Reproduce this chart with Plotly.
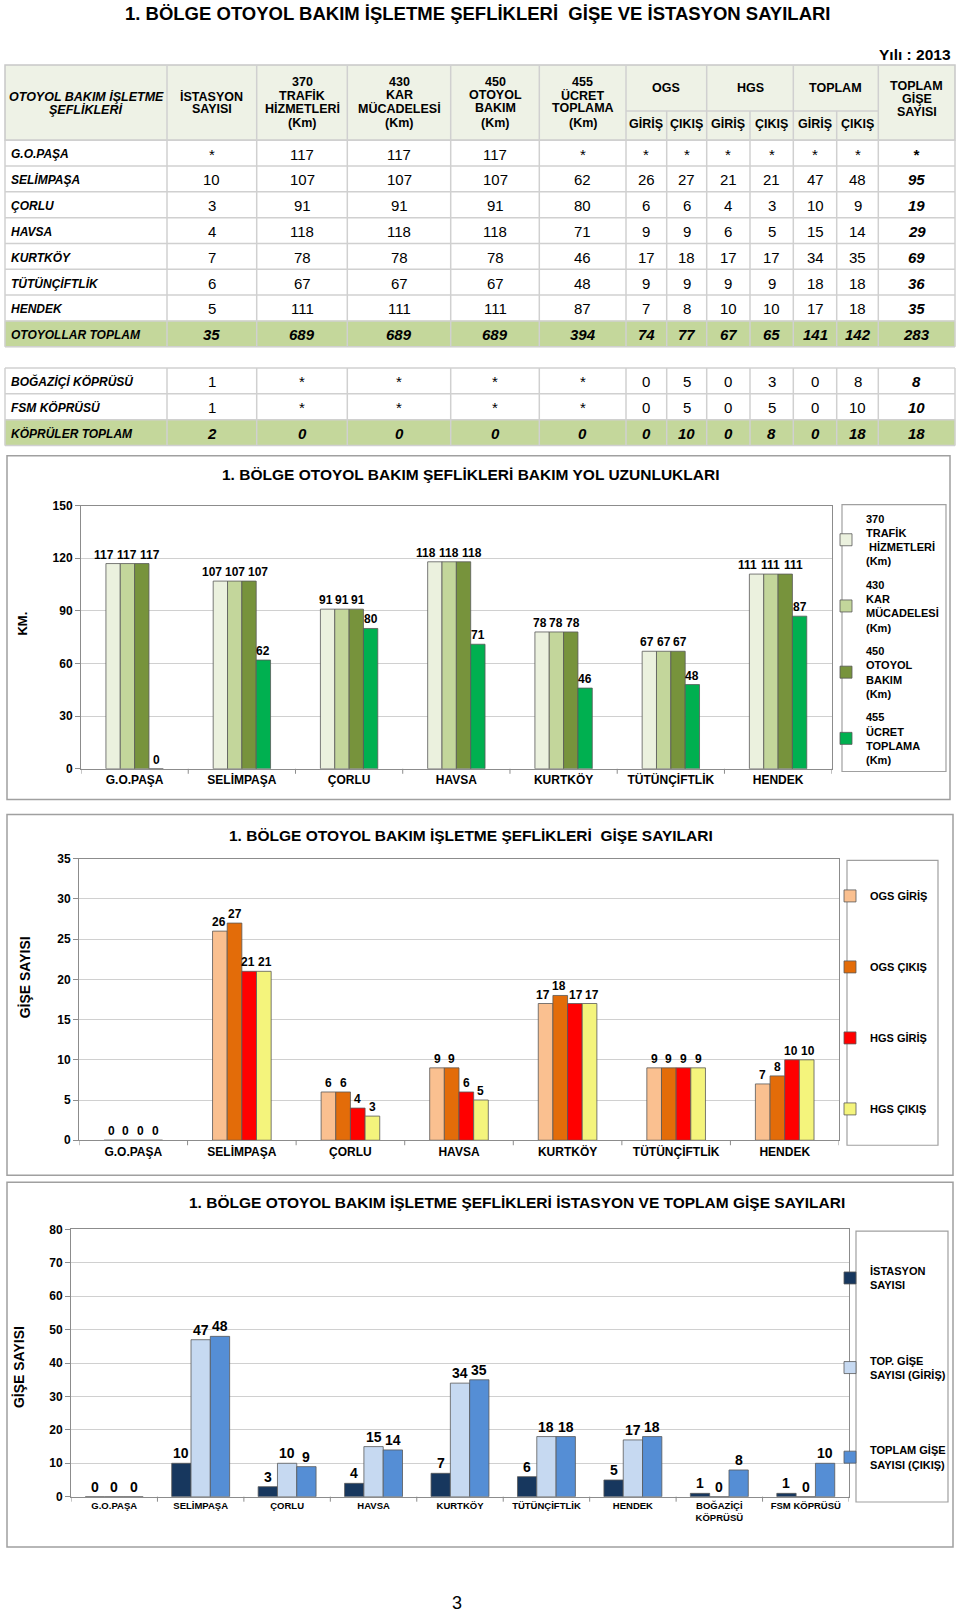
import plotly.graph_objects as go

W, H = 960, 1615
# the photographed page shows a slight vertical offset/scale; compensate so targets land right
V_OFF, V_SCALE = 6.0, 0.992


def X(px):
    return px / W


def Y(py):
    return 1 - ((py - V_OFF) / V_SCALE) / H


FONT = "Liberation Sans, Arial, Helvetica, sans-serif"

# ---------------- DATA ----------------
stations = ["G.O.PAŞA", "SELİMPAŞA", "ÇORLU", "HAVSA", "KURTKÖY", "TÜTÜNÇİFTLİK", "HENDEK"]
istasyon_sayisi = ["*", 10, 3, 4, 7, 6, 5]
km_370 = [117, 107, 91, 118, 78, 67, 111]
km_430 = [117, 107, 91, 118, 78, 67, 111]
km_450 = [117, 107, 91, 118, 78, 67, 111]
km_455 = ["*", 62, 80, 71, 46, 48, 87]
ogs_giris = ["*", 26, 6, 9, 17, 9, 7]
ogs_cikis = ["*", 27, 6, 9, 18, 9, 8]
hgs_giris = ["*", 21, 4, 6, 17, 9, 10]
hgs_cikis = ["*", 21, 3, 5, 17, 9, 10]
toplam_giris = ["*", 47, 10, 15, 34, 18, 17]
toplam_cikis = ["*", 48, 9, 14, 35, 18, 18]
toplam_gise = ["*", 95, 19, 29, 69, 36, 35]
otoyollar_toplam = [35, 689, 689, 689, 394, 74, 77, 67, 65, 141, 142, 283]

bridges = ["BOĞAZİÇİ KÖPRÜSÜ", "FSM KÖPRÜSÜ"]
bridge_chart_labels = ["BOĞAZİÇİ<br>KÖPRÜSÜ", "FSM KÖPRÜSÜ"]
bogazici_row = [1, "*", "*", "*", "*", 0, 5, 0, 3, 0, 8, 8]
fsm_row = [1, "*", "*", "*", "*", 0, 5, 0, 5, 0, 10, 10]
kopruler_toplam = [2, 0, 0, 0, 0, 0, 10, 0, 8, 0, 18, 18]

legend1_names = ["370<br>TRAFİK<br> HİZMETLERİ<br>(Km)", "430<br>KAR<br>MÜCADELESİ<br>(Km)",
                 "450<br>OTOYOL<br>BAKIM<br>(Km)", "455<br>ÜCRET<br>TOPLAMA<br>(Km)"]
legend2_names = ["OGS GİRİŞ", "OGS ÇIKIŞ", "HGS GİRİŞ", "HGS ÇIKIŞ"]
legend3_names = ["İSTASYON<br>SAYISI", "TOP. GİŞE<br>SAYISI (GİRİŞ)", "TOPLAM GİŞE<br>SAYISI (ÇIKIŞ)"]


def num(v):
    return [0 if x == "*" else x for x in v]


# ---------------- FIGURE ----------------
fig = go.Figure()
shapes = []
ann = []


def text(x, y, s, size=12, bold=False, italic=False, xanchor="center", color="#000", angle=0):
    if italic:
        s = "<i>" + s + "</i>"
    ann.append(dict(x=X(x), y=Y(y), xref="paper", yref="paper", text=s, showarrow=False,
                    xanchor=xanchor, yanchor="middle", textangle=angle,
                    font=dict(family=FONT, size=size, color=color, weight="bold" if bold else "normal")))


def line(x0, y0, x1, y1, color="#d3d3d3", width=1.5):
    shapes.append(dict(type="line", xref="paper", yref="paper", x0=X(x0), y0=Y(y0), x1=X(x1), y1=Y(y1),
                       line=dict(color=color, width=width)))


def rect(x0, y0, x1, y1, fill=None, color="#a6a6a6", width=1.2):
    d = dict(type="rect", xref="paper", yref="paper", x0=X(x0), y0=Y(y0), x1=X(x1), y1=Y(y1),
             line=dict(color=color, width=width))
    if fill:
        d["fillcolor"] = fill
        d["layer"] = "below"
    shapes.append(d)


# ---------------- TITLE ----------------
text(478, 13, "1. BÖLGE OTOYOL BAKIM İŞLETME ŞEFLİKLERİ  GİŞE VE İSTASYON SAYILARI", size=18.5, bold=True)
text(953, 54, "Yılı : 2013", size=15.5, bold=True, xanchor="right")
text(457, 1603, "3", size=18)

# ---------------- TABLE ----------------
cb = [5, 167, 256.7, 347.3, 450.7, 539.3, 626, 666.7, 706.7, 750, 793.3, 836.7, 878.3, 955]
cc = [(cb[i] + cb[i + 1]) / 2 for i in range(len(cb) - 1)]
LG = "#d0d0d0"
rect(5, 64, 955, 139.3, fill="#eef2e6", color="#c8c8c8", width=1.5)
for xb in [167, 256.7, 347.3, 450.7, 539.3, 626, 706.7, 793.3, 878.3]:
    line(xb, 64, xb, 139.3, LG, 1.5)
for xb in [666.7, 750, 836.7]:
    line(xb, 110, xb, 139.3, LG, 1.5)
line(626, 110, 878.3, 110, LG, 1.5)

text(cc[0], 96, "OTOYOL BAKIM İŞLETME", 12.5, True, True)
text(cc[0], 108.5, "ŞEFLİKLERİ", 12.5, True, True)
text(cc[1], 96, "İSTASYON", 12.5, True)
text(cc[1], 108.5, "SAYISI", 12.5, True)
head_cols = [["370", "TRAFİK", "HİZMETLERİ", "(Km)"], ["430", "KAR", "MÜCADELESİ", "(Km)"],
             ["450", "OTOYOL", "BAKIM", "(Km)"], ["455", "ÜCRET", "TOPLAMA", "(Km)"]]
for k, lines_ in enumerate(head_cols):
    for j, t in enumerate(lines_):
        text(cc[2 + k], [81, 94.5, 107.5, 122][j], t, 12.5, True)
for k, g in enumerate(["OGS", "HGS", "TOPLAM"]):
    text((cb[6 + 2 * k] + cb[8 + 2 * k]) / 2, 87, g, 12.5, True)
    text(cc[6 + 2 * k], 123, "GİRİŞ", 12.5, True)
    text(cc[7 + 2 * k], 123, "ÇIKIŞ", 12.5, True)
for j, t in enumerate(["TOPLAM", "GİŞE", "SAYISI"]):
    text(cc[12], [85, 98, 111][j], t, 12.5, True)

RH = 25.83
top0 = 139.3
cols = [istasyon_sayisi, km_370, km_430, km_450, km_455, ogs_giris, ogs_cikis, hgs_giris, hgs_cikis,
        toplam_giris, toplam_cikis, toplam_gise]
rows = [(stations[i], [c[i] for c in cols], False) for i in range(len(stations))]
rows.append(("OTOYOLLAR TOPLAM", otoyollar_toplam, True))


def draw_rows(rows, top):
    bottom = top + RH * len(rows)
    for i, (lab, vals, tot) in enumerate(rows):
        y0 = top + RH * i
        yc = y0 + RH / 2 + 1
        if tot:
            rect(5, y0, 955, y0 + RH, fill="#c4d79b", color="#c4d79b", width=0.5)
        text(9, yc, lab, 12, True, True, xanchor="left")
        for j, v in enumerate(vals):
            last = j == len(vals) - 1
            text(cc[j + 1], yc, str(v), 15, tot or last, tot or last)
    for i in range(len(rows) + 1):
        line(5, top + RH * i, 955, top + RH * i, LG, 1.5)
    for xb in cb:
        line(xb, top, xb, bottom, LG, 1.5)


draw_rows(rows, top0)
brows = [(bridges[0], bogazici_row, False), (bridges[1], fsm_row, False),
         ("KÖPRÜLER TOPLAM", kopruler_toplam, True)]
draw_rows(brows, 367.3)

# ---------------- CHART HELPERS ----------------
OUT = "#595959"
AX = "#8c8c8c"
GRID = "#d0d0d0"


def add_bars(cats, series, names, colors, xa, ya, leg, group_frac):
    n = len(series)
    w = group_frac / n
    for i, (vals, nm, col) in enumerate(zip(series, names, colors)):
        fig.add_trace(go.Bar(
            x=list(range(len(cats))), y=vals, name=nm, xaxis=xa, yaxis=ya, legend=leg,
            legendgroup=f"{leg}_{i}", width=w, offset=-group_frac / 2 + i * w,
            marker=dict(color=col, line=dict(color=OUT, width=0.8)),
            hoverinfo="skip"))


def add_labels(ncat, series, xa, ya, group_frac, plot_w, plot_h, ymax, fsize):
    """value labels above the bars, spread sideways when neighbours would collide"""
    n = len(series)
    w = group_frac / n
    cat_px = plot_w / ncat
    unit_px = plot_h / ymax
    for ci in range(ncat):
        items = [((-group_frac / 2 + (i + 0.5) * w) * cat_px, series[i][ci], str(series[i][ci]))
                 for i in range(n)]
        runs = [[0]]
        for i in range(1, n):
            if abs(items[i][1] - items[i - 1][1]) * unit_px < fsize * 1.15:
                runs[-1].append(i)
            else:
                runs.append([i])
        for run in runs:
            m = len(run)
            maxw = max(len(items[i][2]) for i in run) * 0.556 * fsize
            s = max(w * cat_px, maxw + 3)
            center = sum(items[i][0] for i in run) / m
            for k, i in enumerate(run):
                xpx = center + (k - (m - 1) / 2) * s
                ann.append(dict(x=ci + xpx / cat_px, y=items[i][1], xref=xa, yref=ya, text=items[i][2],
                                showarrow=False, xanchor="center", yanchor="bottom", yshift=0,
                                font=dict(family=FONT, size=fsize, color="#000", weight="bold")))


def axes(xa_key, ya_key, yanchor_name, xanchor_name, xdom, ydom, yrange, dtick, xfont, cats):
    fig.layout[xa_key] = dict(domain=xdom, anchor=yanchor_name, range=[-0.5, len(cats) - 0.5],
                              tickmode="array", tickvals=list(range(len(cats))), ticktext=cats,
                              showline=True, linecolor=AX, linewidth=1, mirror=True, ticks="",
                              showgrid=False, zeroline=False, fixedrange=True,
                              tickfont=dict(family=FONT, size=xfont, color="#000", weight="bold"))
    fig.layout[ya_key] = dict(domain=ydom, anchor=xanchor_name, range=yrange, dtick=dtick, showline=True,
                              linecolor=AX, linewidth=1, mirror=True, ticks="outside", ticklen=5, tickcolor=AX,
                              showgrid=True, gridcolor=GRID, gridwidth=1, zeroline=False, fixedrange=True,
                              tickfont=dict(family=FONT, size=12, color="#000", weight="bold"))
    # category boundary tick marks below the x axis
    for b in range(len(cats) + 1):
        shapes.append(dict(type="line", xref=xanchor_name, yref=f"{yanchor_name} domain",
                           x0=b - 0.5, x1=b - 0.5, y0=0, y1=0, ysizemode="pixel", yanchor=0,
                           line=dict(color=AX, width=1)))
        shapes[-1].update(dict(y0=-5, y1=0))


# ---------------- CHART 1 ----------------
ch1 = [km_370, km_430, km_450, num(km_455)]
rect(7, 455, 950, 799, color="#a0a0a0", width=1.5)
text(470, 474, "1. BÖLGE OTOYOL BAKIM ŞEFLİKLERİ BAKIM YOL UZUNLUKLARI", 15.5, True)
text(23, 623, "KM.", 13, True, angle=-90)
add_bars(stations, ch1, legend1_names, ["#ebf1de", "#c3d69b", "#77933c", "#00b050"], "x", "y", "legend", 0.535)
axes("xaxis", "yaxis", "y", "x", [X(81), X(831.7)], [Y(768.3), Y(505)], [0, 150], 30, 12, stations)
add_labels(len(stations), ch1, "x", "y", 0.535, 750.7, 263.3, 150, 12)
rect(842, 504, 946, 771, color="#a0a0a0", width=1.2)

# ---------------- CHART 2 ----------------
ch2 = [num(ogs_giris), num(ogs_cikis), num(hgs_giris), num(hgs_cikis)]
rect(7, 814, 953, 1175, color="#a0a0a0", width=1.5)
text(471, 835, "1. BÖLGE OTOYOL BAKIM İŞLETME ŞEFLİKLERİ  GİŞE SAYILARI", 15.5, True)
text(25, 977, "GİŞE SAYISI", 14, True, angle=-90)
add_bars(stations, ch2, legend2_names, ["#fac090", "#e36c09", "#ff0000", "#f4f47c"], "x2", "y2", "legend2", 0.54)
axes("xaxis2", "yaxis2", "y2", "x2", [X(79), X(839)], [Y(1140), Y(858.3)], [0, 35], 5, 12, stations)
add_labels(len(stations), ch2, "x2", "y2", 0.54, 760, 281.7, 35, 12)
rect(847, 860, 938, 1145, color="#a0a0a0", width=1.2)

# ---------------- CHART 3 ----------------
cats3 = stations + bridge_chart_labels
ist3 = num(istasyon_sayisi) + [bogazici_row[0], fsm_row[0]]
gir3 = num(toplam_giris) + [num(bogazici_row)[9], num(fsm_row)[9]]
cik3 = num(toplam_cikis) + [bogazici_row[10], fsm_row[10]]
ch3 = [ist3, gir3, cik3]
rect(7, 1182, 953, 1547, color="#a0a0a0", width=1.5)
text(517, 1202, "1. BÖLGE OTOYOL BAKIM İŞLETME ŞEFLİKLERİ İSTASYON VE TOPLAM GİŞE SAYILARI", 15.5, True)
text(19, 1367, "GİŞE SAYISI", 14, True, angle=-90)
add_bars(cats3, ch3, legend3_names, ["#17375e", "#c6d9f1", "#558ed5"], "x3", "y3", "legend3", 0.67)
axes("xaxis3", "yaxis3", "y3", "x3", [X(71), X(849)], [Y(1496.7), Y(1229.3)], [0, 80], 10, 9.5, cats3)
add_labels(len(cats3), ch3, "x3", "y3", 0.67, 778, 267.4, 80, 14)
rect(856, 1231, 948, 1502, color="#a0a0a0", width=1.2)


def legend_cfg(x, y, gap):
    return dict(x=X(x), y=Y(y), xanchor="left", yanchor="top", xref="paper", yref="paper",
                bgcolor="rgba(0,0,0,0)", borderwidth=0, traceorder="grouped", tracegroupgap=gap,
                itemwidth=30, itemclick=False, itemdoubleclick=False,
                font=dict(family=FONT, size=11, color="#000", weight="bold"))


fig.update_layout(
    width=W, height=H, autosize=False, margin=dict(l=0, r=0, t=0, b=0),
    paper_bgcolor="white", plot_bgcolor="white", showlegend=True,
    barmode="overlay",
    shapes=shapes, annotations=ann,
    legend=legend_cfg(826, 504, 6),
    legend2=legend_cfg(830, 881, 52),
    legend3=legend_cfg(830, 1257, 58),
)

fig.write_html("out.html", config={"displayModeBar": False},
               post_script="document.body.style.margin='0';document.body.style.overflow='hidden';")
